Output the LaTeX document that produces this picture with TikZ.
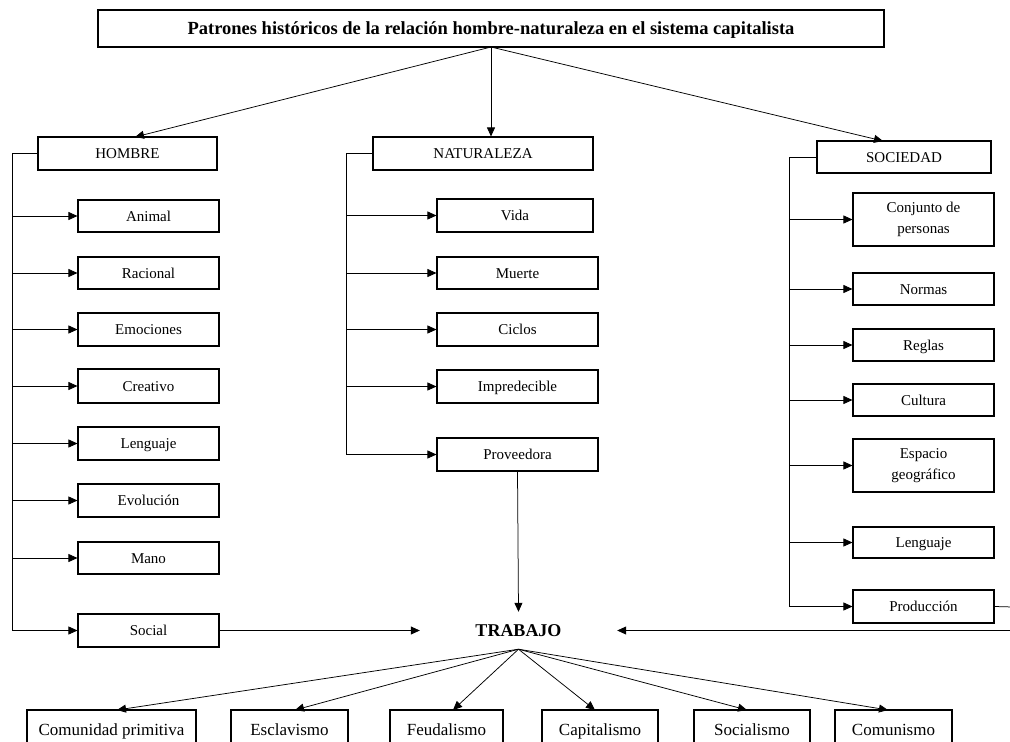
\documentclass[tikz,border=0pt]{standalone}
\usepackage{fontspec}
\setmainfont{Liberation Serif}
\usetikzlibrary{arrows.meta}
\newcommand\mybox[7][bx]{\node[#1,minimum width={(#4-#3)*1pt},minimum height={(#6-#5)*1pt}] (#2) at ({(#3+#4)/2},{(#5+#6)/2}) {#7};}
\tikzset{
  bxm/.style={draw,line width=1.1pt,inner sep=0pt,align=center,font=\fontsize{15}{21}\selectfont},
  bx/.style={bxm,text height=13pt,text depth=3pt},
  bxb/.style={bxm,font=\fontsize{17}{20}\selectfont,text height=17pt,text depth=3pt},
  ttl/.style={bxm,font=\bfseries\fontsize{18.5}{21}\selectfont,text height=15pt,text depth=3pt},
  ln/.style={line width=0.75pt},
  arr/.style={ln,-{Triangle[length=9pt,width=8pt]}}
}
\begin{document}
\begin{tikzpicture}[x=1pt,y=-1pt]
\useasboundingbox (0,0) rectangle (1010,742);
\clip (0,0) rectangle (1010,742);
\mybox[ttl]{title}{98}{884}{10}{47}{Patrones históricos de la relación hombre-naturaleza en el sistema capitalista}
% HOMBRE
\mybox{hombre}{38}{217}{137}{170}{HOMBRE}
\mybox{animal}{78}{219}{200}{232}{Animal}
\mybox{racional}{78}{219}{257}{289}{Racional}
\mybox{emociones}{78}{219}{313}{346}{Emociones}
\mybox{creativo}{78}{219}{369}{403}{Creativo}
\mybox{lenguajeH}{78}{219}{427}{460}{Lenguaje}
\mybox{evolucion}{78}{219}{484}{517}{Evolución}
\mybox{mano}{78}{219}{542}{574}{Mano}
\mybox{social}{78}{219}{614}{647}{Social}
% NATURALEZA
\mybox{naturaleza}{373}{593}{137}{170}{NATURALEZA}
\mybox{vida}{437}{593}{199}{232}{Vida}
\mybox{muerte}{437}{598}{257}{289}{Muerte}
\mybox{ciclos}{437}{598}{313}{346}{Ciclos}
\mybox{impredecible}{437}{598}{370}{403}{Impredecible}
\mybox{proveedora}{437}{598}{438}{471}{Proveedora}
% SOCIEDAD
\mybox{sociedad}{817}{991}{141}{173}{SOCIEDAD}
\mybox[bxm]{conjunto}{853}{994}{193}{246}{Conjunto de\\personas}
\mybox{normas}{853}{994}{273}{305}{Normas}
\mybox{reglas}{853}{994}{329}{361}{Reglas}
\mybox{cultura}{853}{994}{384}{416}{Cultura}
\mybox[bxm]{espacio}{853}{994}{439}{492}{Espacio\\geográfico}
\mybox{lenguajeS}{853}{994}{527}{558}{Lenguaje}
\mybox{produccion}{853}{994}{590}{623}{Producción}
% TRABAJO
\node[inner sep=0pt,minimum width=197pt,minimum height=37pt,font=\bfseries\fontsize{18}{20}\selectfont] (trabajo) at (518.5,630.5) {TRABAJO};
% bottom
\mybox[bxb]{comunidad}{27}{196}{710}{746}{Comunidad primitiva}
\mybox[bxb]{esclavismo}{231}{348}{710}{746}{Esclavismo}
\mybox[bxb]{feudalismo}{390}{503}{710}{746}{Feudalismo}
\mybox[bxb]{capitalismo}{542}{658}{710}{746}{Capitalismo}
\mybox[bxb]{socialismo}{694}{810}{710}{746}{Socialismo}
\mybox[bxb]{comunismo}{835}{952}{710}{746}{Comunismo}
% top arrows
\coordinate (tb) at (491,47);
\draw[arr] (tb) -- (135,137);
\draw[arr] (tb) -- (naturaleza.north -| tb);
\draw[arr] (tb) -- (883,141);
% hombre bracket
\coordinate (hL) at (12,153.5);
\draw[arr] (hombre.west) -- (hL) |- (social.west);
\foreach \n in {animal,racional,emociones,creativo,lenguajeH,evolucion,mano}
  \draw[arr] (hL |- \n.west) -- (\n.west);
% naturaleza bracket
\coordinate (nL) at (346,153.5);
\draw[arr] (naturaleza.west) -- (nL) |- (proveedora.west);
\foreach \n in {vida,muerte,ciclos,impredecible}
  \draw[arr] (nL |- \n.west) -- (\n.west);
% sociedad bracket
\coordinate (sL) at (789,157);
\draw[arr] (sociedad.west) -- (sL) |- (produccion.west);
\foreach \n in {conjunto,normas,reglas,cultura,espacio,lenguajeS}
  \draw[arr] (sL |- \n.west) -- (\n.west);
% into TRABAJO
\draw[arr] (proveedora.south) -- (trabajo.north);
\draw[arr] (social.east) -- (trabajo.west);
\coordinate (pR) at (1013,607);
\draw[arr] (produccion.east) -- (pR) |- (trabajo.east);
% out of TRABAJO
\draw[arr] (trabajo.south) -- (117,710);
\draw[arr] (trabajo.south) -- (295,710);
\draw[arr] (trabajo.south) -- (453,710);
\draw[arr] (trabajo.south) -- (595,710);
\draw[arr] (trabajo.south) -- (747,710);
\draw[arr] (trabajo.south) -- (888,710);
\end{tikzpicture}
\end{document}
